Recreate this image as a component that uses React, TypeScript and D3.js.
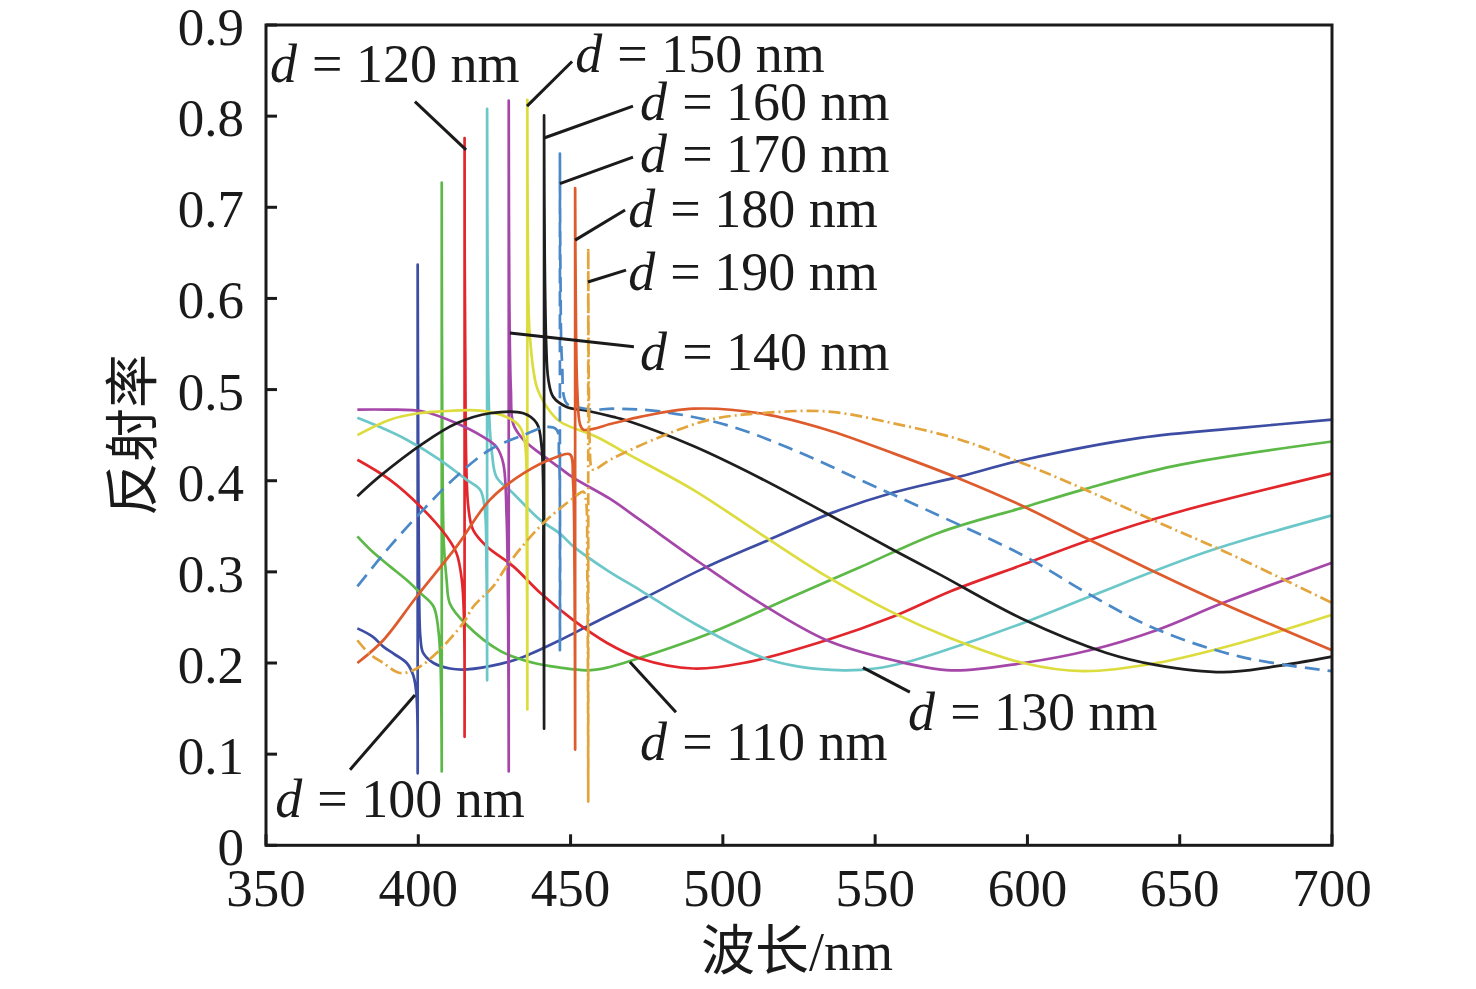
import React, { useEffect } from 'react';
import * as d3 from 'd3';

type Pt = [number, number];

// film thickness (nm) of each curve
const thickness = [100, 110, 120, 130, 140, 150, 160, 170, 180, 190];
// wavelength of the sharp resonance and the extremes of the spike
const resonanceNm = [399.8, 407.7, 415.2, 422.6, 429.7, 435.8, 441.3, 446.5, 451.5, 455.8];
const spikeTop = [0.637, 0.727, 0.776, 0.808, 0.817, 0.818, 0.801, 0.759, 0.721, 0.655];
const spikeBottom = [0.079, 0.081, 0.119, 0.181, 0.081, 0.149, 0.128, 0.214, 0.105, 0.048];

// branch before the resonance / after the resonance, [wavelength nm, reflectance]
const d100Left: Pt[] = [[380, 0.238], [385, 0.229], [388.5, 0.218], [392, 0.21], [396.2, 0.2], [398.4, 0.186], [399.4, 0.165]];
const d100Right: Pt[] = [[400.0, 0.42], [400.3, 0.27], [400.7, 0.228], [401.6, 0.211], [405, 0.2], [410.4, 0.194], [416, 0.193], [427, 0.199], [434, 0.206], [446.5, 0.225], [460, 0.248], [474, 0.271], [495, 0.306], [515, 0.335], [536, 0.365], [556, 0.387], [577, 0.404], [599, 0.423], [637, 0.447], [670, 0.458], [700, 0.467]];

const d110Left: Pt[] = [[380, 0.339], [385, 0.322], [390.7, 0.306], [396.2, 0.291], [400.6, 0.277], [405, 0.262], [406.6, 0.236], [407.3, 0.2]];
const d110Right: Pt[] = [[407.9, 0.45], [408.4, 0.33], [409.3, 0.291], [410.4, 0.265], [415.5, 0.243], [427, 0.213], [438, 0.2], [446.5, 0.195], [455.3, 0.192], [462, 0.195], [474, 0.207], [496, 0.233], [523, 0.273], [545, 0.305], [571, 0.343], [599, 0.371], [618, 0.39], [648, 0.416], [700, 0.443]];

const d120Left: Pt[] = [[380, 0.423], [390.7, 0.401], [400.6, 0.372], [409.3, 0.339], [412.6, 0.32], [414.3, 0.291], [415, 0.25]];
const d120Right: Pt[] = [[415.4, 0.55], [416.4, 0.372], [418, 0.346], [422.4, 0.328], [431.2, 0.306], [440, 0.277], [450.9, 0.247], [462, 0.222], [472.8, 0.205], [490.3, 0.194], [506.7, 0.2], [534, 0.225], [556, 0.251], [575, 0.279], [598.6, 0.308], [620.5, 0.335], [647.8, 0.364], [700, 0.408]];

const d130Left: Pt[] = [[380, 0.469], [388, 0.458], [396.2, 0.445], [407.1, 0.423], [415.9, 0.401], [420.3, 0.39], [421.8, 0.37], [422.4, 0.3]];
const d130Right: Pt[] = [[422.8, 0.6], [423.3, 0.47], [424.2, 0.43], [425.7, 0.404], [431.2, 0.386], [440, 0.357], [446.5, 0.342], [450.9, 0.328], [461.9, 0.302], [472.8, 0.28], [490.3, 0.244], [512.2, 0.207], [525, 0.196], [539.6, 0.192], [550, 0.194], [561.5, 0.202], [571.3, 0.212], [598.6, 0.244], [620.5, 0.273], [658.9, 0.322], [700, 0.362]];

const d140Left: Pt[] = [[380, 0.478], [390, 0.478], [401.6, 0.476], [412.6, 0.463], [421.3, 0.448], [425.7, 0.437], [427.9, 0.419], [429, 0.36], [429.5, 0.25]];
const d140Right: Pt[] = [[429.9, 0.6], [430.4, 0.5], [431.2, 0.462], [434.5, 0.445], [440, 0.43], [446.5, 0.414], [451, 0.403], [463, 0.38], [472.8, 0.357], [492.5, 0.31], [512.2, 0.266], [534.1, 0.225], [556, 0.203], [575, 0.192], [598.6, 0.2], [620.5, 0.214], [642.4, 0.236], [664.3, 0.266], [700, 0.31]];

const d150Left: Pt[] = [[380, 0.45], [390.7, 0.467], [400, 0.474], [407.1, 0.476], [420.3, 0.477], [429, 0.47], [433.4, 0.459], [435, 0.442], [435.6, 0.35]];
const d150Right: Pt[] = [[436, 0.65], [436.6, 0.56], [438.9, 0.503], [442.2, 0.481], [446.5, 0.465], [458.6, 0.448], [468.4, 0.43], [490.3, 0.39], [512.2, 0.342], [534.1, 0.295], [556, 0.255], [575, 0.227], [598.6, 0.2], [618.3, 0.191], [642.4, 0.2], [669.8, 0.222], [700, 0.253]];

const d160Left: Pt[] = [[380, 0.383], [387.4, 0.405], [401.6, 0.441], [412.6, 0.463], [423.5, 0.474], [434.5, 0.474], [438.9, 0.463], [440.5, 0.437], [441.1, 0.3]];
const d160Right: Pt[] = [[441.5, 0.65], [442, 0.55], [442.7, 0.511], [444.3, 0.492], [448.7, 0.481], [455, 0.477], [464, 0.47], [468.4, 0.466], [490.3, 0.438], [512.2, 0.403], [534.1, 0.364], [556, 0.324], [571.3, 0.297], [598.6, 0.248], [626, 0.211], [642, 0.198], [664.3, 0.19], [680.7, 0.196], [700, 0.207]];

const d170Left: Pt[] = [[380, 0.284], [390.7, 0.328], [401.6, 0.368], [412.6, 0.405], [423.5, 0.434], [434.5, 0.45], [442.2, 0.459], [445.4, 0.456], [446.2, 0.43]];
const d170Right: Pt[] = [[446.7, 0.62], [447.2, 0.53], [448.7, 0.485], [453, 0.48], [457.5, 0.478], [464, 0.479], [479.4, 0.476], [501.3, 0.461], [523.1, 0.434], [545, 0.401], [566.9, 0.368], [598.6, 0.318], [620.5, 0.275], [642.4, 0.237], [669.8, 0.207], [700, 0.191]];

const d180Left: Pt[] = [[380, 0.2], [388.5, 0.225], [399.5, 0.273], [412.6, 0.328], [423.5, 0.379], [434.5, 0.408], [445.4, 0.426], [449.8, 0.429], [450.8, 0.4], [451.3, 0.3]];
const d180Right: Pt[] = [[451.7, 0.6], [452.2, 0.5], [453.1, 0.462], [454.2, 0.456], [464, 0.463], [472.8, 0.47], [490.3, 0.479], [512.2, 0.474], [534.1, 0.456], [556, 0.43], [577.9, 0.402], [598.6, 0.372], [620.5, 0.335], [642.4, 0.299], [664.3, 0.265], [700, 0.214]];

const d190Left: Pt[] = [[380, 0.225], [384, 0.21], [388.5, 0.2], [394, 0.189], [399.5, 0.194], [406, 0.211], [414.8, 0.244], [418.1, 0.262], [424.6, 0.284], [429, 0.306], [440, 0.35], [450.9, 0.381], [454.2, 0.388], [455, 0.38], [455.5, 0.3]];
const d190Right: Pt[] = [[456, 0.5], [456.3, 0.44], [456.8, 0.415], [457.5, 0.412], [463, 0.423], [479.4, 0.448], [495.8, 0.467], [512.2, 0.474], [534.1, 0.476], [556, 0.463], [577.9, 0.445], [598.6, 0.419], [620.5, 0.388], [642.4, 0.355], [664.3, 0.323], [700, 0.266]];

const leftBranches = [d100Left, d110Left, d120Left, d130Left, d140Left, d150Left, d160Left, d170Left, d180Left, d190Left];
const rightBranches = [d100Right, d110Right, d120Right, d130Right, d140Right, d150Right, d160Right, d170Right, d180Right, d190Right];

const xTicks = [350, 400, 450, 500, 550, 600, 650, 700];
const yTicks = [0, 0.1, 0.2, 0.3, 0.4, 0.5, 0.6, 0.7, 0.8, 0.9];

const colors = ['#3d4da3', '#5cb947', '#e2272c', '#6cc7c9', '#a547a8', '#dcdc3e', '#1e1e1e', '#4a88c8', '#dd5b2c', '#e3a43c'];
const dashes = [null, null, null, null, null, null, null, '15 8', null, '12 4 2 4'];

// label anchor (nm, reflectance) and leader line from curve to label
const annotations = [
  { d: 100, at: [353, 0.031], from: [398.9, 0.165], to: [377.6, 0.083] },
  { d: 110, at: [472.8, 0.094], from: [469.5, 0.201], to: [484.6, 0.146] },
  { d: 120, at: [351.3, 0.838], from: [415.7, 0.763], to: [398.9, 0.816] },
  { d: 130, at: [560.8, 0.127], from: [546, 0.195], to: [561.4, 0.168] },
  { d: 140, at: [472.8, 0.522], from: [430.1, 0.562], to: [470.8, 0.547] },
  { d: 150, at: [451.5, 0.848], from: [435.7, 0.811], to: [450.5, 0.86] },
  { d: 160, at: [472.8, 0.796], from: [441.3, 0.776], to: [470.5, 0.811] },
  { d: 170, at: [472.8, 0.739], from: [446.5, 0.726], to: [470.5, 0.755] },
  { d: 180, at: [468.9, 0.678], from: [451.5, 0.664], to: [467.9, 0.697] },
  { d: 190, at: [468.9, 0.609], from: [455.7, 0.618], to: [468.2, 0.631] },
];

const W = 1476;
const H = 989;
const serif = '"Liberation Serif", "Times New Roman", "Noto Sans CJK SC", serif';
const labelSize = 54;

export default function App() {
  useEffect(() => {
    document.body.style.margin = '0';
  }, []);

  const x = d3.scaleLinear().domain([350, 700]).range([266, 1332]);
  const y = d3.scaleLinear().domain([0, 0.9]).range([845.3, 25]);

  const line = d3
    .line<Pt>()
    .x((d) => x(d[0]))
    .y((d) => y(d[1]))
    .curve(d3.curveCatmullRom.alpha(0.5));

  const paths = thickness.map((_, i) => {
    const a = line([...leftBranches[i], [resonanceNm[i], spikeBottom[i]]]) || '';
    const b = line([[resonanceNm[i], spikeTop[i]], ...rightBranches[i]]) || '';
    return a + 'L' + b.slice(1);
  });

  const [x0, x1] = x.range();
  const [y0, y1] = y.range();

  return (
    <svg width={W} height={H} style={{ display: 'block', background: '#fff' }}>
      <g fill="none" strokeWidth={2.7} strokeLinejoin="round">
        {paths.map((p, i) => (
          <path key={i} d={p} stroke={colors[i]} strokeDasharray={dashes[i] || undefined} />
        ))}
      </g>

      <g stroke="#1a1a1a" strokeWidth={3}>
        {annotations.map((a) => (
          <line key={a.d} x1={x(a.from[0])} y1={y(a.from[1])} x2={x(a.to[0])} y2={y(a.to[1])} />
        ))}
      </g>
      <g fontFamily={serif} fontSize={labelSize} fill="#1a1a1a">
        {annotations.map((a) => (
          <g key={a.d}>
            <text x={x(a.at[0])} y={y(a.at[1])} fontStyle="italic">
              d
            </text>
            <text x={x(a.at[0]) + labelSize * 0.78} y={y(a.at[1])}>
              {`= ${a.d} nm`}
            </text>
          </g>
        ))}
      </g>

      <rect x={x0} y={y1} width={x1 - x0} height={y0 - y1} fill="none" stroke="#1a1a1a" strokeWidth={3} />
      <g stroke="#1a1a1a" strokeWidth={3}>
        {xTicks.map((t) => (
          <line key={t} x1={x(t)} x2={x(t)} y1={y0} y2={y0 - 11} />
        ))}
        {yTicks.map((t) => (
          <line key={t} x1={x0} x2={x0 + 11} y1={y(t)} y2={y(t)} />
        ))}
      </g>
      <g fontFamily={serif} fontSize={53} fill="#1a1a1a">
        {xTicks.map((t) => (
          <text key={t} x={x(t)} y={906} textAnchor="middle">
            {t}
          </text>
        ))}
        {yTicks.map((t) => (
          <text key={t} x={x0 - 22} y={y(t) + 20} textAnchor="end">
            {t === 0 ? '0' : t.toFixed(1)}
          </text>
        ))}
        <text x={797} y={970} textAnchor="middle" fontSize={54}>
          波长/nm
        </text>
        <text transform={`translate(152,435) rotate(-90)`} textAnchor="middle" fontSize={54}>
          反射率
        </text>
      </g>
    </svg>
  );
}
